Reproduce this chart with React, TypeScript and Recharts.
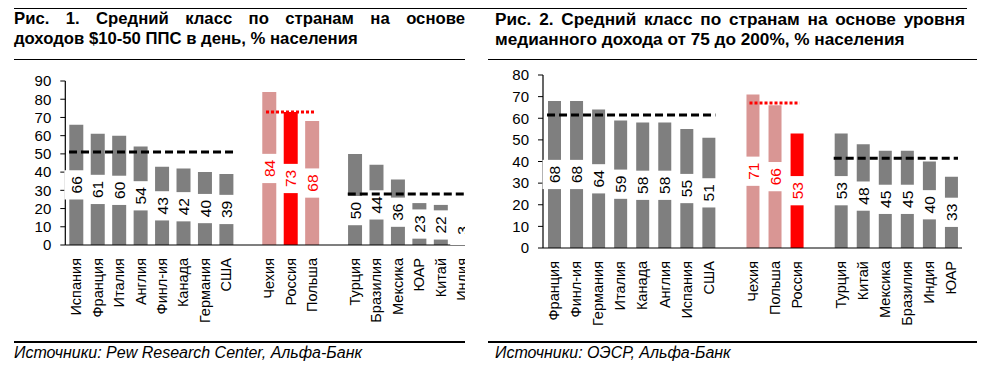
import React from 'react';
import { ComposedChart, Bar, XAxis, YAxis, ReferenceLine, Cell, LabelList } from 'recharts';

// ---------- Fig. 1 data ----------
const fig1DevNames = ['Испания', 'Франция', 'Италия', 'Англия', 'Финл-ия', 'Канада', 'Германия', 'США'];
const fig1DevValues = [66, 61, 60, 54, 43, 42, 40, 39];
const fig1PeerNames = ['Чехия', 'Россия', 'Польша'];
const fig1PeerValues = [84, 73, 68];
const fig1EmNames = ['Турция', 'Бразилия', 'Мексика', 'ЮАР', 'Китай', 'Индия'];
const fig1EmValues = [50, 44, 36, 23, 22, 3];
const fig1Averages = [51, 73, 28];
const fig1Ticks = [0, 10, 20, 30, 40, 50, 60, 70, 80, 90];

// ---------- Fig. 2 data ----------
const fig2DevNames = ['Франция', 'Финл-ия', 'Германия', 'Италия', 'Канада', 'Англия', 'Испания', 'США'];
const fig2DevValues = [68, 68, 64, 59, 58, 58, 55, 51];
const fig2PeerNames = ['Чехия', 'Польша', 'Россия'];
const fig2PeerValues = [71, 66, 53];
const fig2EmNames = ['Турция', 'Китай', 'Мексика', 'Бразилия', 'Индия', 'ЮАР'];
const fig2EmValues = [53, 48, 45, 45, 40, 33];
const fig2Averages = [61.5, 67, 41.5];
const fig2Ticks = [0, 10, 20, 30, 40, 50, 60, 70, 80];

const FONT = '"Liberation Sans", Arial, Helvetica, sans-serif';
const GREY = '#7F7F7F';
const PINK = '#D99694';
const RED = '#FF0000';

type Row = { name: string; value: number | null; kind: string; avg: number | null };

function buildRows(
  dn: string[], dv: number[], pn: string[], pv: number[], en: string[], ev: number[], avgs: number[]
): Row[] {
  const rows: Row[] = [];
  dn.forEach((n, i) => rows.push({ name: n, value: dv[i], kind: 'dev', avg: avgs[0] }));
  rows.push({ name: ' ', value: null, kind: 'gap', avg: null });
  pn.forEach((n, i) => rows.push({ name: n, value: pv[i], kind: n === 'Россия' ? 'russia' : 'peer', avg: avgs[1] }));
  rows.push({ name: '  ', value: null, kind: 'gap', avg: null });
  en.forEach((n, i) => rows.push({ name: n, value: ev[i], kind: 'em', avg: avgs[2] }));
  return rows;
}

const fig1Rows = buildRows(fig1DevNames, fig1DevValues, fig1PeerNames, fig1PeerValues, fig1EmNames, fig1EmValues, fig1Averages);
const fig2Rows = buildRows(fig2DevNames, fig2DevValues, fig2PeerNames, fig2PeerValues, fig2EmNames, fig2EmValues, fig2Averages);

const barColor = (k: string) => (k === 'russia' ? RED : k === 'peer' ? PINK : GREY);
const labelColor = (k: string) => (k === 'russia' || k === 'peer' ? RED : '#000');

const LABEL_FS = 15.5;
const BOX_W = 24;

const labelAccessor = (entry: any) =>
  entry.value == null ? '' : `${entry.value}|${entry.kind}|${entry.avg}`;

const BarLabel = (p: any) => {
  const raw = p.value == null ? '' : String(p.value);
  if (!raw || raw.indexOf('|') < 0) return null;
  const [txt, kind, avgStr] = raw.split('|');
  const vb = p.viewBox || p;
  const x = Number(vb.x);
  const y = Number(vb.y);
  const width = Number(vb.width);
  const height = Number(vb.height);
  if (!isFinite(x) || !isFinite(y) || !height) return null;
  const top = Math.min(y, y + height);
  const bottom = Math.max(y, y + height);
  const textLen = Math.max(txt.length, 2) * 0.556 * LABEL_FS;
  const boxH = textLen + 12;
  let cy = (top + bottom) / 2;
  if (cy + boxH / 2 > bottom) cy = bottom - boxH / 2;
  // keep the label text clear of the group's average line
  const val = Number(txt);
  const avg = Number(avgStr);
  if (isFinite(avg) && val > 0) {
    const lineY = bottom - (avg / val) * (bottom - top);
    const tTop = cy - textLen / 2;
    const tBot = cy + textLen / 2;
    if (tTop < lineY + 2 && tBot > lineY - 2 && lineY < bottom - textLen - 8) {
      cy = lineY + 8 + textLen / 2;
    }
  }
  const cx = x + width / 2;
  return (
    <g>
      <rect x={cx - BOX_W / 2} y={cy - boxH / 2} width={BOX_W} height={boxH} fill="#fff" />
      <text
        x={cx}
        y={cy}
        transform={`rotate(-90 ${cx} ${cy})`}
        textAnchor="middle"
        dy="0.36em"
        fontSize={LABEL_FS}
        fontFamily={FONT}
        fill={labelColor(kind)}
      >
        {txt}
      </text>
    </g>
  );
};

const CatTick = (p: any) => {
  const { x, y, payload } = p;
  const v = String(payload.value);
  if (!v.trim()) return null;
  return (
    <text
      x={x}
      y={y}
      transform={`rotate(-90 ${x} ${y})`}
      textAnchor="end"
      dy="0.36em"
      fontSize={14.5}
      fontFamily={FONT}
      fill="#000"
    >
      {v}
    </text>
  );
};

const lineShape = (ext: number, color: string, dash: string) => (p: any) => (
  <line
    x1={p.x1 - ext}
    y1={p.y1}
    x2={p.x2 + ext}
    y2={p.y2}
    stroke={color}
    strokeWidth={3}
    strokeDasharray={dash}
  />
);

type ChartProps = {
  rows: Row[];
  width: number;
  height: number;
  margin: any;
  yWidth: number;
  xHeight: number;
  ticks: number[];
  yMax: number;
  groups: string[][];
  averages: number[];
  barSize: number;
};

const Chart = ({ rows, width, height, margin, yWidth, xHeight, ticks, yMax, groups, averages, barSize }: ChartProps) => (
  <ComposedChart width={width} height={height} data={rows} margin={margin} barSize={barSize}>
    <XAxis
      dataKey="name"
      interval={0}
      tickLine={false}
      tickSize={0}
      tickMargin={13}
      height={xHeight}
      axisLine={{ stroke: '#000', strokeWidth: 1.2 }}
      tick={<CatTick />}
    />
    <YAxis
      domain={[0, yMax]}
      ticks={ticks}
      interval={0}
      width={yWidth}
      tickSize={5}
      tickMargin={9}
      axisLine={{ stroke: '#000', strokeWidth: 1.2 }}
      tickLine={{ stroke: '#000' }}
      tick={{ fontSize: 15, fill: '#000', fontFamily: FONT }}
    />
    <Bar dataKey="value" isAnimationActive={false}>
      {rows.map((r, i) => (
        <Cell key={i} fill={barColor(r.kind)} />
      ))}
      <LabelList dataKey={labelAccessor} content={<BarLabel />} />
    </Bar>
    {groups.map((g, i) => (
      <ReferenceLine
        key={i}
        ifOverflow="visible"
        zIndex={3000}
        segment={[
          { x: g[0], y: averages[i] },
          { x: g[g.length - 1], y: averages[i] },
        ]}
        shape={i === 1 ? lineShape(3, RED, '3 2') : lineShape(7, '#000', '8 4')}
      />
    ))}
  </ComposedChart>
);

const rule = (left: number, top: number, width: number) => (
  <div style={{ position: 'absolute', left, top, width, height: 1.5, background: '#000' }} />
);

export default function App() {
  return (
    <div
      style={{
        position: 'absolute',
        left: 0,
        top: 0,
        width: 986,
        height: 366,
        background: '#fff',
        overflow: 'hidden',
        fontFamily: FONT,
        color: '#000',
      }}
    >
      {rule(14, 7.5, 953)}
      {rule(14, 58.5, 451)}
      {rule(488, 58.5, 489)}
      {rule(14, 341, 451)}
      {rule(488, 341, 489)}

      <div style={{ position: 'absolute', left: 14, top: 8.5, width: 451, fontWeight: 'bold', fontSize: 16.7, lineHeight: '20px' }}>
        <div style={{ textAlign: 'justify', textAlignLast: 'justify' }}>Рис. 1. Средний класс по странам на основе</div>
        <div>доходов $10-50 ППС в день, % населения</div>
      </div>
      <div style={{ position: 'absolute', left: 495, top: 8.5, width: 470, fontWeight: 'bold', fontSize: 17.2, lineHeight: '20px' }}>
        <div style={{ textAlign: 'justify', textAlignLast: 'justify' }}>Рис. 2. Средний класс по странам на основе уровня</div>
        <div>медианного дохода от 75 до 200%, % населения</div>
      </div>

      <div style={{ position: 'absolute', left: 0, top: 60, width: 465, height: 280, overflow: 'hidden' }}>
        <Chart
          rows={fig1Rows}
          width={480}
          height={280}
          margin={{ top: 21, right: 7.3, bottom: 0, left: 8 }}
          yWidth={57.3}
          xHeight={95}
          ticks={fig1Ticks}
          yMax={90}
          groups={[fig1DevNames, fig1PeerNames, fig1EmNames]}
          averages={fig1Averages}
          barSize={14}
        />
      </div>

      <div style={{ position: 'absolute', left: 490, top: 60, width: 482, height: 280 }}>
        <Chart
          rows={fig2Rows}
          width={482}
          height={280}
          margin={{ top: 15, right: 10, bottom: 0, left: 0 }}
          yWidth={53}
          xHeight={92}
          ticks={fig2Ticks}
          yMax={80}
          groups={[fig2DevNames, fig2PeerNames, fig2EmNames]}
          averages={fig2Averages}
          barSize={13}
        />
      </div>

      <div style={{ position: 'absolute', left: 14, top: 343, fontStyle: 'italic', fontSize: 16, lineHeight: '20px' }}>
        Источники: Pew Research Center, Альфа-Банк
      </div>
      <div style={{ position: 'absolute', left: 495, top: 343, fontStyle: 'italic', fontSize: 16, lineHeight: '20px' }}>
        Источники: ОЭСР, Альфа-Банк
      </div>
    </div>
  );
}
